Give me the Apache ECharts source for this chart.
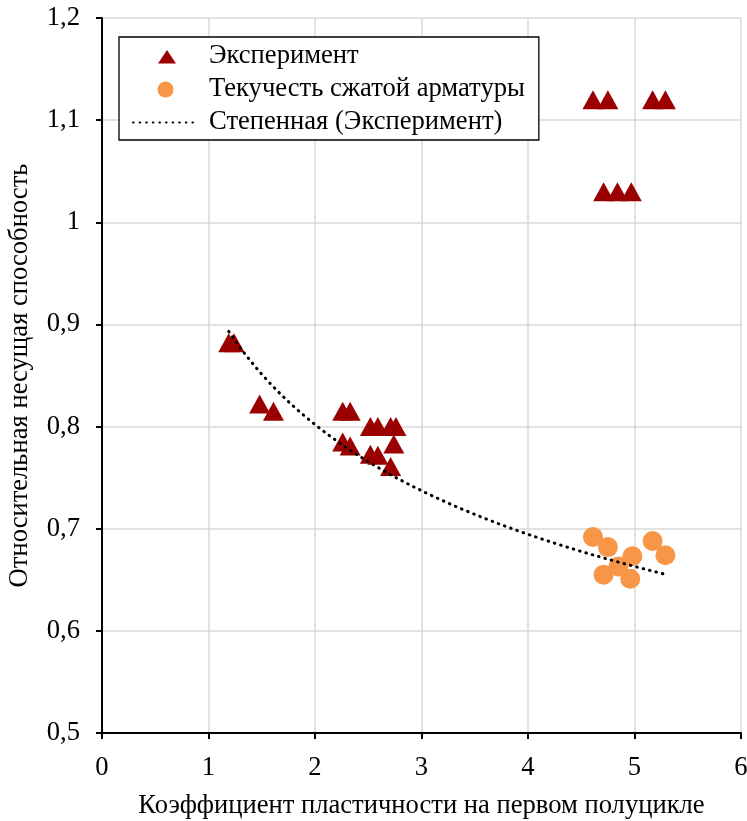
<!DOCTYPE html>
<html>
<head>
<meta charset="utf-8">
<script src="https://cdn.jsdelivr.net/npm/echarts@6/dist/echarts.min.js"></script>
<style>
html,body{margin:0;padding:0;background:#fff;}
#chart{width:747px;height:821px;}
</style>
</head>
<body>
<div id="chart"></div>
<script>
// Experiment points (triangles)
const expX = [1.19, 1.24, 1.48, 1.61, 2.26, 2.33, 2.52, 2.59, 2.71, 2.76, 2.74, 2.26, 2.33, 2.52, 2.59, 2.71, 4.61, 4.75, 5.17, 5.29, 4.71, 4.84, 4.97];
const expY = [0.882, 0.882, 0.822, 0.815, 0.815, 0.815, 0.800, 0.800, 0.800, 0.800, 0.783, 0.785, 0.781, 0.773, 0.772, 0.761, 1.12, 1.12, 1.12, 1.12, 1.03, 1.03, 1.03];
// Yield of compressed reinforcement (circles)
const yieldX = [4.61, 4.75, 4.98, 4.71, 4.85, 4.96, 5.17, 5.29];
const yieldY = [0.692, 0.682, 0.673, 0.655, 0.663, 0.651, 0.688, 0.674];
// Power trendline y = a * x^b
const trendA = 0.926;
const trendB = -0.2075;
const trendRange = [1.19, 5.30];

const seriesNames = ['Эксперимент', 'Текучесть сжатой арматуры', 'Степенная (Эксперимент)'];
const xTitle = 'Коэффициент пластичности на первом полуцикле';
const yTitle = 'Относительная несущая способность';

const expData = expX.map((x, i) => [x, expY[i]]);
const yieldData = yieldX.map((x, i) => [x, yieldY[i]]);
const trendData = [];
const nT = 80;
for (let i = 0; i <= nT; i++) {
  const x = trendRange[0] + (trendRange[1] - trendRange[0]) * i / nT;
  trendData.push([x, trendA * Math.pow(x, trendB)]);
}

// legend triangle icon kept in a 65x16 box so it is not stretched
const triIcon = 'path://M0,0L0.01,0L0,0.01ZM65,16L64.99,16L65,15.99ZM34,1.5L43,15L25,15Z';

const FONT = '"Liberation Serif", "Times New Roman", serif';
const FS = 26.6;
const chart = echarts.init(document.getElementById('chart'), null, {renderer: 'canvas'});
chart.setOption({
  animation: false,
  backgroundColor: '#fff',
  textStyle: {fontFamily: FONT, color: '#000'},
  grid: {left: 102, right: 6, top: 18, bottom: 88, containLabel: false, outerBoundsMode: 'none'},
  legend: {
    data: [
      {name: seriesNames[0], icon: triIcon},
      {name: seriesNames[1], icon: 'circle'},
      {name: seriesNames[2]}
    ],
    orient: 'vertical',
    left: 119,
    top: 37,
    itemWidth: 65,
    itemHeight: 16,
    itemGap: 6,
    padding: [6, 14, 4, 13],
    backgroundColor: '#fff',
    borderColor: '#000',
    borderWidth: 1.3,
    textStyle: {fontFamily: FONT, fontSize: FS, color: '#000', padding: [0, 0, 0, 6]}
  },
  xAxis: {
    type: 'value', min: 0, max: 6, interval: 1,
    name: xTitle, nameLocation: 'middle', nameGap: 60,
    nameTextStyle: {fontFamily: FONT, fontSize: FS, color: '#000'},
    axisLine: {show: true, onZero: false, lineStyle: {color: '#000', width: 2}},
    axisTick: {show: true, length: 6, lineStyle: {color: '#000', width: 2}},
    axisLabel: {fontFamily: FONT, fontSize: FS, color: '#000', margin: 22},
    splitLine: {show: true, lineStyle: {color: '#d9d9d9', width: 1.5}}
  },
  yAxis: {
    type: 'value', min: 0.5, max: 1.2, interval: 0.1,
    name: yTitle, nameLocation: 'middle', nameGap: 68, nameRotate: 90,
    nameTextStyle: {fontFamily: FONT, fontSize: FS, color: '#000'},
    axisLine: {show: true, onZero: false, lineStyle: {color: '#000', width: 2}},
    axisTick: {show: true, length: 6, lineStyle: {color: '#000', width: 2}},
    axisLabel: {
      fontFamily: FONT, fontSize: FS, color: '#000', margin: 22,
      formatter: v => String(+(+v).toFixed(1)).replace('.', ',')
    },
    splitLine: {show: true, lineStyle: {color: '#d9d9d9', width: 1.5}}
  },
  series: [
    {
      name: seriesNames[0], type: 'scatter', data: expData,
      symbol: 'triangle', symbolSize: [21, 19],
      itemStyle: {color: '#9b0000', opacity: 1}, z: 2
    },
    {
      name: seriesNames[1], type: 'scatter', data: yieldData,
      symbol: 'circle', symbolSize: 20,
      itemStyle: {color: '#f79646', opacity: 1}, z: 3
    },
    {
      name: seriesNames[2], type: 'line', data: trendData,
      symbol: 'none', showSymbol: false, smooth: false,
      lineStyle: {color: '#000', width: 3, type: [0.6, 6], cap: 'round'},
      itemStyle: {color: 'rgba(0,0,0,0)'},
      z: 4
    }
  ]
});
</script>
</body>
</html>
